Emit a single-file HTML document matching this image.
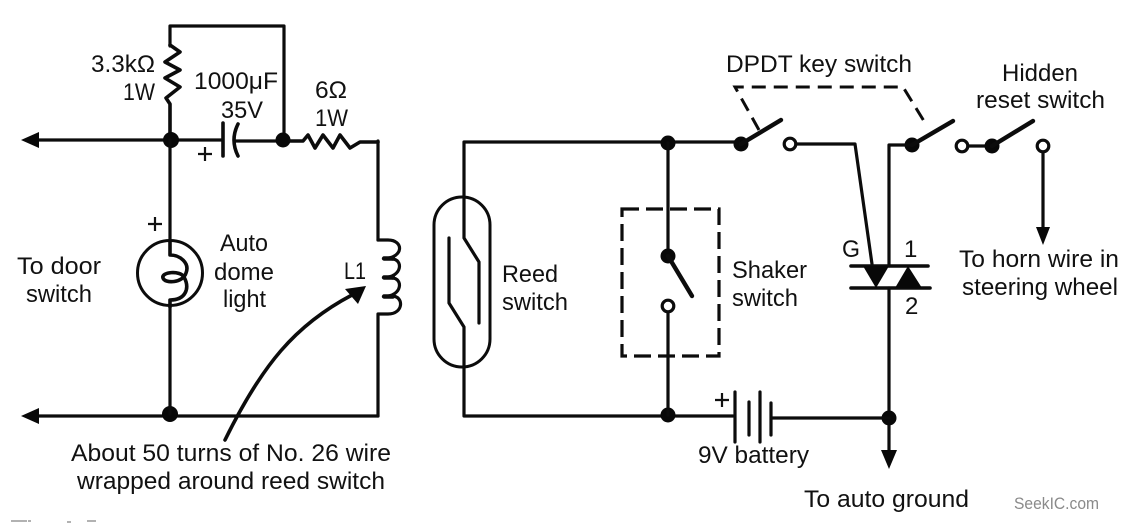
<!DOCTYPE html>
<html>
<head>
<meta charset="utf-8">
<title>Car alarm circuit</title>
<style>
html,body{margin:0;padding:0;background:#fff;width:1134px;height:524px;overflow:hidden}
svg{display:block}
text{font-family:"Liberation Sans",sans-serif;font-size:24px;fill:#111}
.w{fill:none;stroke:#0c0c0c;stroke-width:3.2;stroke-linejoin:round;stroke-linecap:round}
.t{fill:none;stroke:#0c0c0c;stroke-width:4.4;stroke-linecap:round;stroke-linejoin:round}
.m{fill:none;stroke:#0c0c0c;stroke-width:3.6;stroke-linejoin:round;stroke-linecap:round}
.d{fill:none;stroke:#0c0c0c;stroke-width:3}
.f{fill:#080808;stroke:none}
.o{fill:#fff;stroke:#0c0c0c;stroke-width:3.2}
.p{fill:none;stroke:#111;stroke-width:2.2}
</style>
</head>
<body>
<svg width="1134" height="524" viewBox="0 0 1134 524" xmlns="http://www.w3.org/2000/svg">
<g style="filter:blur(0.35px)">
<!-- left circuit -->
<path class="w" d="M170 46V26H284V140"/>
<path class="m" d="M170 45L180 52L165 62L180 70L165 78L180 87L166 98L170 104V140"/>
<path class="w" d="M34 140H222"/>
<path class="f" d="M21 140L39 132V148Z"/>
<circle class="f" cx="171" cy="140" r="8"/>
<path class="m" d="M223 123V156"/>
<path class="m" d="M238 124Q230 140 238 156"/>
<path class="w" d="M236 141H283"/>
<circle class="f" cx="283" cy="140" r="7.5"/>
<path class="m" d="M290 141H303L308 135L315 148L323 135L333 148L340 135L350 148L360 142H378"/>
<path class="w" d="M378 141V240"/>
<path class="w" d="M378 240H388C404 240 404 258 384 258.500"/>
<path class="w" d="M392 259C403 259 403 277 384 277.500"/>
<path class="w" d="M392 278C403 278 403 296 384 296.500"/>
<path class="w" d="M392 296C404 296 404 314 388 314H378V416"/>
<path class="t" d="M384 258.500H393M384 277.500H393M384 296.500H393"/>
<path class="w" d="M34 416H378"/>
<path class="f" d="M21 416L39 408V424Z"/>
<path class="w" d="M170 140V240"/>
<circle class="f" cx="170" cy="414" r="8"/>
<path class="w" d="M170 306V414"/>
<!-- lamp -->
<circle cx="170" cy="273" r="32.500" fill="none" stroke="#0c0c0c" stroke-width="3"/>
<path class="m" d="M170 240V255C180 255 190 263 186 273C183 283 165 284 163 278C161 272 180 270 184 277C190 288 186 300 170 300V307"/>
<!-- curved pointer arrow -->
<path class="m" d="M225 440C262 365 295 325 352 295"/>
<path class="f" d="M366 286L345 289L358 304Z"/>
<!-- reed switch -->
<path class="w" d="M464 197V142H741"/>
<rect x="434" y="197" width="56" height="170" rx="28" ry="28" fill="none" stroke="#0c0c0c" stroke-width="3"/>
<path class="w" d="M464 197V238L479 262V323"/>
<path class="w" d="M449 238V303L464 327V416H733"/>
<circle class="f" cx="668" cy="143" r="7.500"/>
<circle class="f" cx="668" cy="415" r="7.500"/>
<!-- shaker -->
<path class="w" d="M668 143V256"/>
<circle class="f" cx="668" cy="256" r="7.500"/>
<path class="t" d="M668 256L692 296"/>
<path class="w" d="M668 312V415"/>
<circle class="o" cx="668" cy="306" r="5.800"/>
<path class="d" d="M622 209H719V356H622Z" stroke-dasharray="17 7" style="stroke-width:3.2"/>
<!-- DPDT -->
<circle class="f" cx="741" cy="144" r="7.500"/>
<path class="t" d="M741 144L781 120"/>
<circle class="o" cx="790" cy="144" r="5.800"/>
<path class="w" d="M796 144H855L872 264"/>
<circle class="f" cx="912" cy="145" r="7.500"/>
<path class="t" d="M912 145L953 121"/>
<circle class="o" cx="962" cy="146" r="5.800"/>
<path class="w" d="M968 146H992"/>
<circle class="f" cx="992" cy="146" r="7.500"/>
<path class="t" d="M992 146L1033 121"/>
<circle class="o" cx="1043" cy="146" r="5.800"/>
<path class="w" d="M1043 152V230"/>
<path class="f" d="M1036 227H1050L1043 245Z"/>
<path class="d" d="M759 130L735 87H903L927 126" stroke-dasharray="14 8"/>
<path class="w" d="M912 145H889V266"/>
<!-- triac -->
<path class="m" d="M851 266H928M851 288H930"/>
<path class="f" d="M863 266H889L876 288Z"/>
<path class="f" d="M895 288H922L908 266Z"/>
<path class="w" d="M889 288V456"/>
<circle class="f" cx="889" cy="418" r="7.500"/>
<path class="f" d="M881 450H897L889 469Z"/>
<!-- battery -->
<path class="w" d="M735 392V442M749 402V435M760 392V442M771 403V435"/>
<path class="w" d="M772 418H889"/>
<!-- plus signs -->
<path class="p" d="M198 154H212M205 147V161M148 224H162M155 217V231M715 400H729M722 393V407"/>
<!-- stray marks -->
<path d="M11 521H27M28 521H31M67 522H71M87 521H96" stroke="#999" stroke-width="1.500" fill="none"/>

<!-- labels -->
<text x="91" y="72" textLength="64" lengthAdjust="spacingAndGlyphs">3.3kΩ</text>
<text x="123" y="100" textLength="32" lengthAdjust="spacingAndGlyphs">1W</text>
<text x="194" y="89" textLength="84" lengthAdjust="spacingAndGlyphs">1000μF</text>
<text x="221" y="118" textLength="42" lengthAdjust="spacingAndGlyphs">35V</text>
<text x="315" y="98" textLength="32" lengthAdjust="spacingAndGlyphs">6Ω</text>
<text x="315" y="126" textLength="33" lengthAdjust="spacingAndGlyphs">1W</text>
<text x="220" y="251" textLength="48" lengthAdjust="spacingAndGlyphs">Auto</text>
<text x="214" y="280" textLength="60" lengthAdjust="spacingAndGlyphs">dome</text>
<text x="223" y="307" textLength="43" lengthAdjust="spacingAndGlyphs">light</text>
<text x="17" y="274" textLength="84" lengthAdjust="spacingAndGlyphs">To door</text>
<text x="26" y="302" textLength="66" lengthAdjust="spacingAndGlyphs">switch</text>
<text x="344" y="279" textLength="22" lengthAdjust="spacingAndGlyphs">L1</text>
<text x="71" y="461" textLength="320" lengthAdjust="spacingAndGlyphs">About 50 turns of No. 26 wire</text>
<text x="77" y="489" textLength="308" lengthAdjust="spacingAndGlyphs">wrapped around reed switch</text>
<text x="502" y="282" textLength="56" lengthAdjust="spacingAndGlyphs">Reed</text>
<text x="502" y="310" textLength="66" lengthAdjust="spacingAndGlyphs">switch</text>
<text x="732" y="278" textLength="75" lengthAdjust="spacingAndGlyphs">Shaker</text>
<text x="732" y="306" textLength="66" lengthAdjust="spacingAndGlyphs">switch</text>
<text x="726" y="72" textLength="186" lengthAdjust="spacingAndGlyphs">DPDT key switch</text>
<text x="1002" y="81" textLength="76" lengthAdjust="spacingAndGlyphs">Hidden</text>
<text x="976" y="108" textLength="129" lengthAdjust="spacingAndGlyphs">reset switch</text>
<text x="842" y="257" textLength="18" lengthAdjust="spacingAndGlyphs">G</text>
<text x="904" y="257">1</text>
<text x="905" y="314">2</text>
<text x="959" y="267" textLength="160" lengthAdjust="spacingAndGlyphs">To horn wire in</text>
<text x="962" y="295" textLength="156" lengthAdjust="spacingAndGlyphs">steering wheel</text>
<text x="698" y="463" textLength="111" lengthAdjust="spacingAndGlyphs">9V battery</text>
<text x="804" y="507" textLength="165" lengthAdjust="spacingAndGlyphs">To auto ground</text>
</g>
<text x="1014" y="509" textLength="85" lengthAdjust="spacingAndGlyphs" style="font-size:17px;fill:#8a8a8a">SeekIC.com</text>
</svg>
</body>
</html>
